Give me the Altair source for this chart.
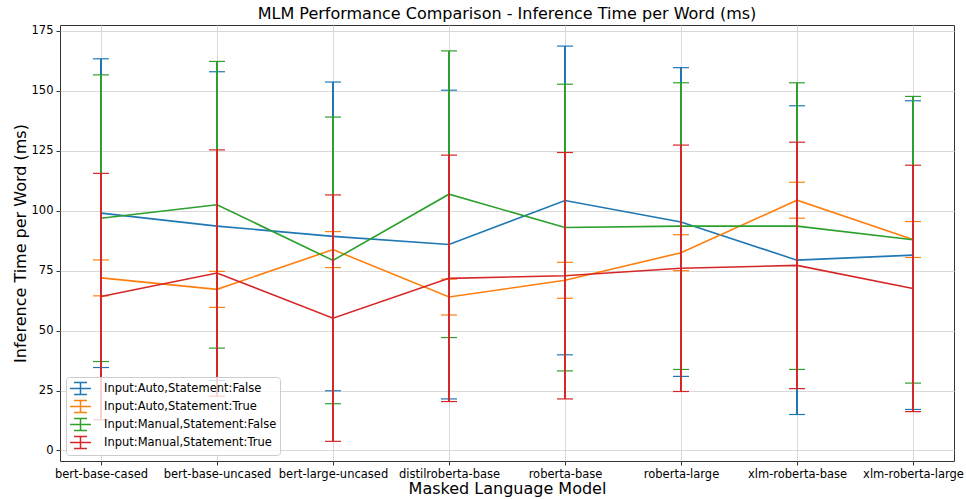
import altair as alt
import pandas as pd

models = ["bert-base-cased", "bert-base-uncased", "bert-large-uncased",
          "distilroberta-base", "roberta-base", "roberta-large",
          "xlm-roberta-base", "xlm-roberta-large"]
series = ["Input:Auto,Statement:False", "Input:Auto,Statement:True",
          "Input:Manual,Statement:False", "Input:Manual,Statement:True"]
colors = ["#1f77b4", "#ff7f0e", "#2ca02c", "#d62728"]

auto_false_mean = [99.0, 93.6, 89.3, 85.9, 104.3, 95.3, 79.4, 81.5]
auto_false_err = [64.4, 64.4, 64.4, 64.4, 64.4, 64.4, 64.4, 64.4]
auto_true_mean = [72.0, 67.2, 83.8, 64.0, 71.0, 82.5, 104.4, 88.0]
auto_true_err = [7.5, 7.5, 7.5, 7.5, 7.5, 7.5, 7.5, 7.5]
manual_false_mean = [96.9, 102.5, 79.3, 106.9, 93.0, 93.6, 93.6, 87.9]
manual_false_err = [59.8, 59.8, 59.8, 59.8, 59.8, 59.8, 59.8, 59.8]
manual_true_mean = [64.2, 74.0, 55.2, 71.8, 72.9, 76.0, 77.2, 67.6]
manual_true_err = [51.4, 51.4, 51.4, 51.4, 51.4, 51.4, 51.4, 51.4]

means = [auto_false_mean, auto_true_mean, manual_false_mean, manual_true_mean]
errs = [auto_false_err, auto_true_err, manual_false_err, manual_true_err]

FONT = "DejaVu Sans"

xscale = alt.Scale(type="point", padding=41 / 116, domain=models)
yscale = alt.Scale(domain=[-4.4, 177.5], nice=False, zero=False)
cscale = alt.Scale(domain=series, range=colors)

xaxis = alt.Axis(title="Masked Language Model", labelAngle=0)
yaxis = alt.Axis(title="Inference Time per Word (ms)",
                 values=[0, 25, 50, 75, 100, 125, 150, 175])

legend = alt.Legend(
    title=None, orient="bottom-left",
    symbolType="M-1.35,0L1.35,0M0,-0.78L0,0.78M-0.84,-0.78L0.84,-0.78M-0.84,0.78L0.84,0.78",
    symbolSize=240, symbolStrokeWidth=1.5, symbolFillColor="transparent",
    symbolOpacity=1, symbolOffset=3,
    labelFont=FONT, labelFontSize=11.5, labelColor="black", labelOffset=15,
    fillColor="rgba(255,255,255,0.8)", strokeColor="#cccccc", cornerRadius=3,
    padding=3, rowPadding=-2, offset=6, labelLimit=300,
)

layers = []
for s, m, e in zip(series, means, errs):
    df = pd.DataFrame({
        "model": models,
        "series": s,
        "mean": m,
        "lower": [a - b for a, b in zip(m, e)],
        "upper": [a + b for a, b in zip(m, e)],
    })
    base = alt.Chart(df)
    enc_x = alt.X("model:N", scale=xscale, axis=xaxis, sort=models)
    enc_c = alt.Color("series:N", scale=cscale, legend=legend)
    line = base.mark_line(strokeWidth=1.6).encode(
        x=enc_x, y=alt.Y("mean:Q", scale=yscale, axis=yaxis), color=enc_c)
    rule = base.mark_rule(strokeWidth=2).encode(
        x=enc_x, y=alt.Y("lower:Q", scale=yscale, axis=yaxis), y2="upper:Q",
        color=enc_c)
    cap_lo = base.mark_tick(size=16, thickness=1.2, opacity=1).encode(
        x=enc_x, y=alt.Y("lower:Q", scale=yscale, axis=yaxis), color=enc_c)
    cap_hi = base.mark_tick(size=16, thickness=1.2, opacity=1).encode(
        x=enc_x, y=alt.Y("upper:Q", scale=yscale, axis=yaxis), color=enc_c)
    layers += [line, rule, cap_lo, cap_hi]

chart = alt.layer(*layers).properties(
    width=894, height=436,
    background="white",
    title=alt.TitleParams("MLM Performance Comparison - Inference Time per Word (ms)",
                          font=FONT, fontSize=16, fontWeight="normal",
                          color="black", offset=3),
    autosize=alt.AutoSizeParams(type="none"),
    padding={"left": 60, "top": 25, "right": 12, "bottom": 38},
).configure_view(stroke="#333333", strokeWidth=1
).configure_axis(
    labelFont=FONT, titleFont=FONT, labelFontSize=11.5, titleFontSize=16,
    titleFontWeight="normal", labelColor="black", titleColor="black",
    grid=True, gridColor="#d9d9d9", gridWidth=1, domain=False,
    tickColor="#333333", tickSize=4, labelPadding=3,
).configure_axisY(titlePadding=3).configure_axisX(titlePadding=1)

chart.save("out.html", embed_options={"renderer": "svg", "actions": False})
